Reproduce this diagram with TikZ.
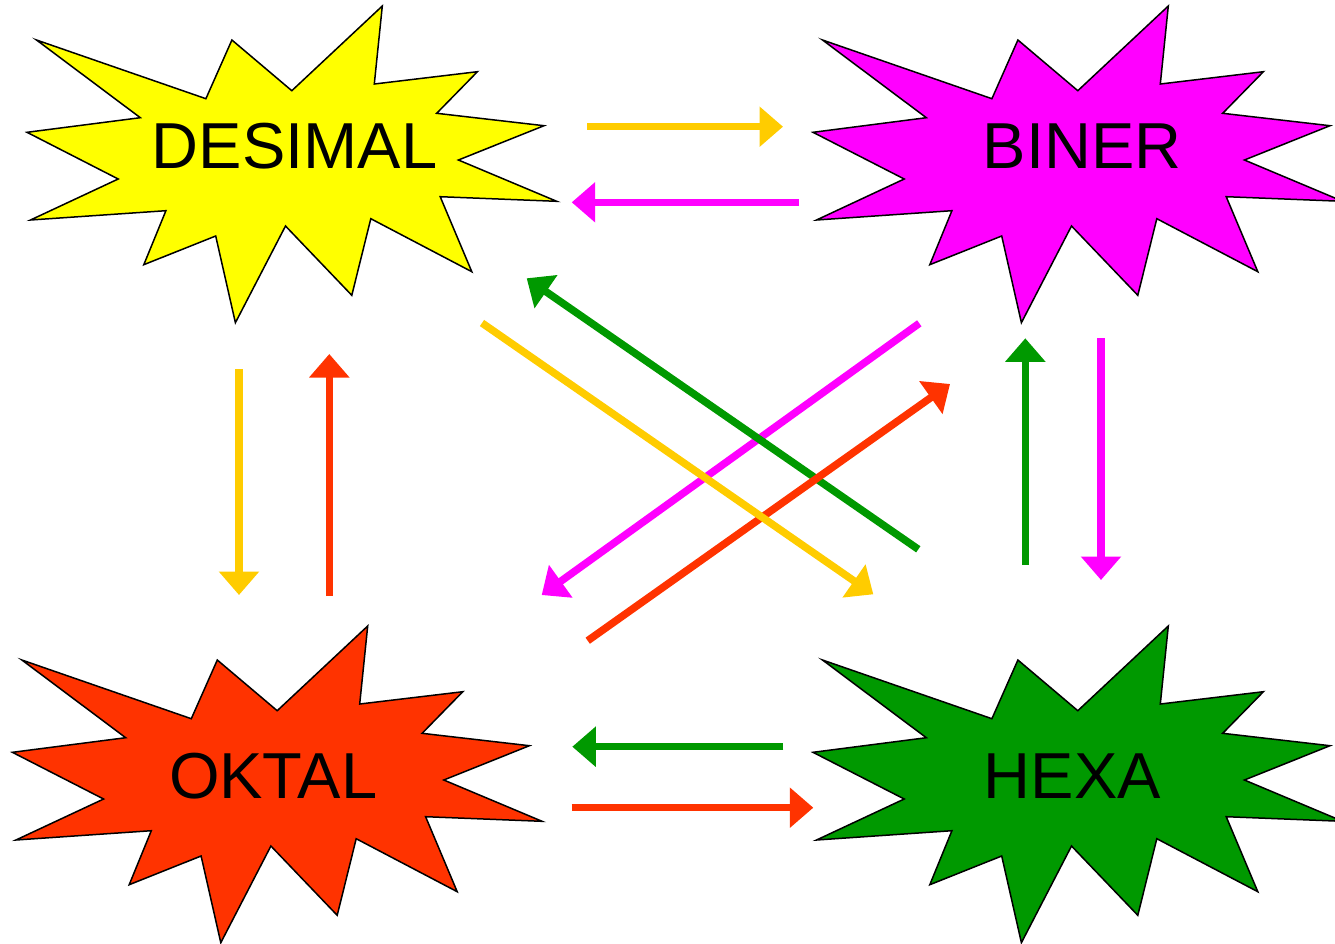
\documentclass[tikz,border=0pt]{standalone}
\usepackage{fontspec}
\setmainfont{Liberation Sans}
\usetikzlibrary{arrows.meta}

\definecolor{fillyellow}{HTML}{FFFF00}
\definecolor{fillmagenta}{HTML}{FF00FF}
\definecolor{fillred}{HTML}{FF3300}
\definecolor{fillgreen}{HTML}{009900}
\definecolor{arrowyellow}{HTML}{FFCC00}

\tikzset{
  burstline/.style={draw=black, line width=1.5pt, line join=miter},
  pics/burst/.style={code={
    \filldraw[burstline, fill=#1]
      (36.5,40) -- (205.9,98.7) -- (231.9,40) -- (291.8,90.7) -- (382.3,6)
      -- (374.3,84) -- (477.4,71.7) -- (436.7,113.3) -- (544,125.7)
      -- (458.4,160) -- (556.7,201.3) -- (440.2,196.7) -- (471.8,271.7)
      -- (370.8,218.7) -- (351.8,295.3) -- (285.5,226) -- (235.4,322.7)
      -- (215.7,236) -- (143.8,264.7) -- (165.9,210.7) -- (30.5,220)
      -- (118.2,179) -- (27,132.3) -- (140.3,117.7) -- cycle;
  }},
  title/.style={anchor=base, inner sep=0pt, font=\fontsize{65}{78}\selectfont},
  conv/.style={line width=7.5pt, draw=#1,
    -{Triangle[length=23.5pt, width=39pt, fill=#1]}},
}

\begin{document}
\begin{tikzpicture}[x=1pt, y=-1pt]
  \useasboundingbox (0,0) rectangle (1335,943);

  % the four number systems
  \pic at (0,0) {burst=fillyellow};
  \pic at (786,0) {burst=fillmagenta};
  \pic at (-14.6,620) {burst=fillred};
  \pic at (786,620) {burst=fillgreen};

  \node[title] (desimal) at (294.5,168.3) {DESIMAL};
  \node[title] (biner) at (1082.3,168.3) {BINER};
  \node[title] (oktal) at (273.2,798.3) {OKTAL};
  \node[title] (hexa) at (1072.4,798.3) {HEXA};

  % arrow end points
  \coordinate (db1) at (587,126.7);   \coordinate (db2) at (783,126.7);
  \coordinate (bd1) at (798.7,202.3); \coordinate (bd2) at (571.7,202.3);
  \coordinate (hd1) at (918.3,549.3); \coordinate (hd2) at (526.7,278.3);
  \coordinate (dh1) at (482,323);     \coordinate (dh2) at (873.3,594.3);
  \coordinate (bo1) at (919.3,323.3); \coordinate (bo2) at (541.7,595);
  \coordinate (ob1) at (587.7,640.7); \coordinate (ob2) at (950,384);
  \coordinate (do1) at (239,369);     \coordinate (do2) at (239,595);
  \coordinate (od1) at (329.3,596);   \coordinate (od2) at (329.3,354);
  \coordinate (hb1) at (1025.3,565);  \coordinate (hb2) at (1025.3,338.3);
  \coordinate (bh1) at (1101,338.3);  \coordinate (bh2) at (1101,580);
  \coordinate (ho1) at (783.3,746.7); \coordinate (ho2) at (572.3,746.7);
  \coordinate (oh1) at (571.7,807.7); \coordinate (oh2) at (813.3,807.7);

  % conversions
  \draw[conv=arrowyellow] (db1) -- (db2);
  \draw[conv=fillmagenta] (bd1) -- (bd2);
  \draw[conv=arrowyellow] (do1) -- (do2);
  \draw[conv=fillred] (od1) -- (od2);
  \draw[conv=fillgreen] (hb1) -- (hb2);
  \draw[conv=fillmagenta] (bh1) -- (bh2);
  \draw[conv=fillgreen] (ho1) -- (ho2);
  \draw[conv=fillred] (oh1) -- (oh2);
  \draw[conv=fillmagenta] (bo1) -- (bo2);
  \draw[conv=fillgreen] (hd1) -- (hd2);
  \draw[conv=fillred] (ob1) -- (ob2);
  \draw[conv=arrowyellow] (dh1) -- (dh2);
\end{tikzpicture}
\end{document}
